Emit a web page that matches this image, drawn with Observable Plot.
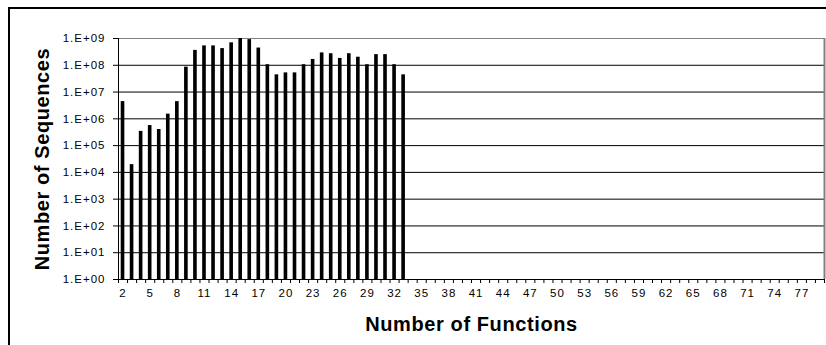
<!DOCTYPE html>
<html>
<head>
<meta charset="utf-8">
<script src="https://cdn.jsdelivr.net/npm/d3@7"></script>
<script src="https://cdn.jsdelivr.net/npm/@observablehq/plot@0.6"></script>
<style>
  html, body { margin: 0; padding: 0; background: #fff; overflow: hidden; }
  #wrap { position: relative; width: 826px; height: 345px; }
  #frame { position: absolute; left: 8px; top: 7px; width: 2000px; height: 2000px;
           border-left: 2px solid #000; border-top: 2px solid #000; pointer-events: none; }
  g[aria-label="y-axis tick label"] text,
  g[aria-label="x-axis tick label"] text { letter-spacing: 1px; }
  g[aria-label="text"] text { letter-spacing: 0.6px; }
</style>
</head>
<body>
<div id="wrap"><div id="frame"></div></div>
<script>
// Number of functions (categories shown on the axis run from 2 to 79)
const axisFirst = 2;
const axisLast = 79;
const functionCounts = [2, 3, 4, 5, 6, 7, 8, 9, 10, 11, 12, 13, 14, 15, 16, 17,
  18, 19, 20, 21, 22, 23, 24, 25, 26, 27, 28, 29, 30, 31, 32, 33];
// Number of sequences
const sequenceCounts = [4.4e6, 1.95e4, 3.4e5, 5.6e5, 4.0e5, 1.5e6, 4.4e6, 8.5e7,
  3.6e8, 5.3e8, 5.3e8, 4.2e8, 6.9e8, 1.0e9, 9.1e8, 4.4e8, 1.05e8, 4.4e7, 5.2e7,
  5.2e7, 1.05e8, 1.65e8, 2.9e8, 2.7e8, 1.8e8, 2.7e8, 2.0e8, 1.05e8, 2.5e8,
  2.5e8, 1.05e8, 4.4e7];
const xTickLabels = [2, 5, 8, 11, 14, 17, 20, 23, 26, 29, 32, 35, 38, 41, 44, 47,
  50, 53, 56, 59, 62, 65, 68, 71, 74, 77];
const yTicks = [1, 1e1, 1e2, 1e3, 1e4, 1e5, 1e6, 1e7, 1e8, 1e9];
const xTitle = "Number of Functions";
const yTitle = "Number of Sequences";

const bars = functionCounts.map((n, i) => ({n, v: sequenceCounts[i]}));
const boundaries = d3.range(axisFirst - 0.5, axisLast + 1, 1);
const half = 0.2; // bar half-width in category units (gap width 150%)
const fmt = d => "1.E+" + String(Math.round(Math.log10(d))).padStart(2, "0");

const chart = Plot.plot({
  width: 826,
  height: 345,
  marginLeft: 118,
  marginRight: 2,
  marginTop: 38,
  marginBottom: 66,
  style: {fontFamily: "'Liberation Sans', Arial, sans-serif", fontSize: "11.5px",
          color: "#000", background: "transparent", overflow: "visible"},
  x: {domain: [axisFirst - 0.5, axisLast + 0.5], axis: null},
  y: {type: "log", domain: [1, 1e9], axis: null},
  marks: [
    Plot.ruleY(yTicks.slice(1, -1), {stroke: "#000", strokeWidth: 1}),
    Plot.ruleY([1e9], {stroke: "#808080", strokeWidth: 1}),
    Plot.ruleX([axisLast + 0.5], {stroke: "#808080", strokeWidth: 2}),
    Plot.rect(bars, {x1: d => d.n - half, x2: d => d.n + half, y1: 1, y2: "v", fill: "#000"}),
    Plot.axisY({ticks: yTicks, tickFormat: fmt, tickSize: 5, tickPadding: 8, label: null,
                stroke: "#000", fill: "#000"}),
    Plot.axisX({ticks: boundaries, tickSize: 4, tickFormat: () => "", label: null, stroke: "#000"}),
    Plot.axisX({ticks: xTickLabels, tickSize: 0, tickPadding: 9, label: null, fill: "#000"}),
    Plot.ruleX([axisFirst - 0.5], {stroke: "#000", strokeWidth: 1}),
    Plot.ruleY([1], {stroke: "#000", strokeWidth: 1}),
    Plot.text([xTitle], {frameAnchor: "bottom", dy: 45, textAnchor: "middle", lineAnchor: "middle",
                         fontSize: 20, fontWeight: "bold", fill: "#000"}),
    Plot.text([yTitle], {frameAnchor: "left", dx: -76, rotate: -90, textAnchor: "middle", lineAnchor: "middle",
                         fontSize: 20, fontWeight: "bold", fill: "#000"})
  ]
});
document.getElementById("wrap").prepend(chart);
</script>
</body>
</html>
